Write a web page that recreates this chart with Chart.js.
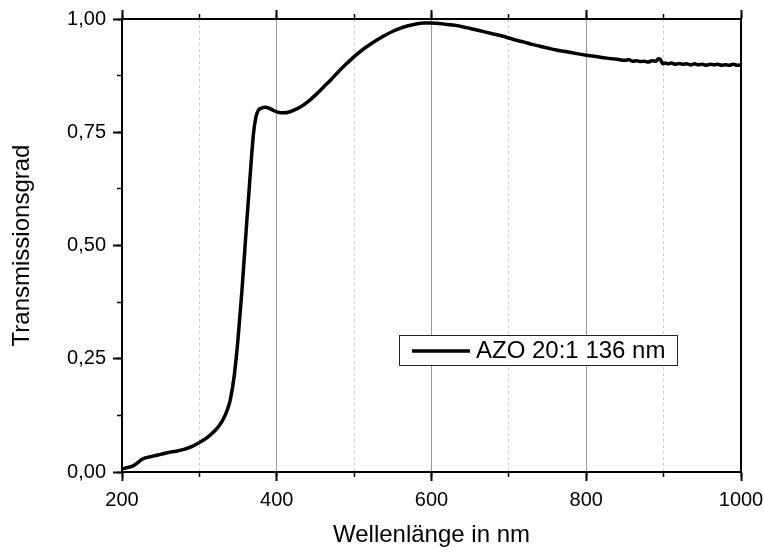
<!DOCTYPE html>
<html lang="de">
<head>
<meta charset="utf-8">
<title>Transmission AZO 20:1</title>
<script src="https://cdn.jsdelivr.net/npm/chart.js@4.4.0/dist/chart.umd.min.js"></script>
<style>
  html, body { margin: 0; padding: 0; background: #fff; }
</style>
</head>
<body>
<canvas id="grafik" width="764" height="552"></canvas>
<script>
// Transmissionsspektrum der AZO-Schicht (20:1, 136 nm)
const probe = 'AZO 20:1 136 nm';

const wellenlaenge = [
  200, 205, 210, 215, 220, 225, 230, 240, 250, 260, 270, 280, 290,
  300, 310, 320, 325, 330, 335, 340, 345, 350, 355, 360, 365, 370,
  373, 376, 380, 385, 390, 395, 400, 405, 410, 415, 420, 430, 440,
  450, 460, 470, 480, 490, 500, 510, 520, 530, 540, 550, 560, 570,
  580, 590, 600, 610, 620, 630, 640, 650, 660, 670, 680, 690, 700,
  710, 720, 730, 740, 750, 760, 770, 780, 790, 800, 810, 820, 830,
  840, 850, 855, 860, 865, 870, 875, 880, 885, 890, 893, 896, 899,
  902, 906, 910, 915, 920, 925, 930, 935, 940, 945, 950, 955, 960,
  965, 970, 975, 980, 985, 990, 995, 1000
];

const transmission = [
  0.007, 0.009, 0.011, 0.014, 0.020, 0.027, 0.031, 0.035, 0.039, 0.043, 0.046, 0.050, 0.056,
  0.065, 0.076, 0.091, 0.101, 0.114, 0.132, 0.160, 0.212, 0.295, 0.400, 0.522, 0.640, 0.748,
  0.783, 0.798, 0.803, 0.805, 0.803, 0.799, 0.795, 0.793, 0.793, 0.794, 0.797, 0.805, 0.817,
  0.832, 0.849, 0.866, 0.884, 0.901, 0.917, 0.931, 0.943, 0.954, 0.964, 0.973, 0.980, 0.985,
  0.989, 0.991, 0.991, 0.990, 0.988, 0.986, 0.983, 0.979, 0.975, 0.971, 0.967, 0.963, 0.958,
  0.953, 0.949, 0.944, 0.940, 0.936, 0.932, 0.929, 0.926, 0.923, 0.920, 0.918, 0.915, 0.913,
  0.911, 0.909, 0.910, 0.907, 0.908, 0.906, 0.907, 0.905, 0.908, 0.907, 0.912, 0.910, 0.901,
  0.903, 0.901, 0.903, 0.900, 0.902, 0.900, 0.901, 0.899, 0.901, 0.899, 0.900, 0.898, 0.900,
  0.899, 0.900, 0.898, 0.899, 0.898, 0.900, 0.898, 0.899
];

// Achsenteilung
const xTicks = [200, 400, 600, 800, 1000];
const xNebenTicks = [200, 300, 400, 500, 600, 700, 800, 900, 1000];
const yTicks = [0, 0.25, 0.5, 0.75, 1];
const yNebenTicks = [0, 0.125, 0.25, 0.375, 0.5, 0.625, 0.75, 0.875, 1];

const schrift = '"Liberation Sans", Arial, sans-serif';
const leer = 'rgba(0,0,0,0)';

function setzeTicks(werte) {
  return scale => { scale.ticks = werte.map(v => ({ value: v })); };
}

// Legende mit Rahmen innerhalb des Diagramms
const legendeImDiagramm = {
  id: 'legendeImDiagramm',
  afterDatasetsDraw(chart) {
    const { ctx, chartArea: a } = chart;
    const ds = chart.data.datasets[0];
    const x = Math.round(a.left + a.width * 0.4475);
    const y = Math.round(a.top + a.height * 0.698);
    const w = 278, h = 30;
    ctx.save();
    ctx.fillStyle = '#fff';
    ctx.fillRect(x, y, w, h);
    ctx.strokeStyle = '#222';
    ctx.lineWidth = 1;
    ctx.strokeRect(x + 0.5, y + 0.5, w, h);
    ctx.strokeStyle = ds.borderColor;
    ctx.lineWidth = ds.borderWidth;
    ctx.beginPath();
    ctx.moveTo(x + 13, y + h / 2 + 1);
    ctx.lineTo(x + 71, y + h / 2 + 1);
    ctx.stroke();
    ctx.fillStyle = '#000';
    ctx.font = '24px ' + schrift;
    ctx.textBaseline = 'middle';
    ctx.fillText(ds.label, x + 77, y + h / 2 + 1);
    ctx.restore();
  }
};

new Chart(document.getElementById('grafik'), {
  type: 'line',
  data: {
    datasets: [{
      label: probe,
      data: wellenlaenge.map((w, i) => ({ x: w, y: transmission[i] })),
      borderColor: '#000',
      borderWidth: 3.5,
      pointRadius: 0,
      cubicInterpolationMode: 'monotone',
      fill: false
    }]
  },
  options: {
    responsive: false,
    animation: false,
    events: [],
    layout: { padding: 0 },
    plugins: { legend: { display: false }, tooltip: { enabled: false } },
    scales: {
      x: {
        type: 'linear', position: 'bottom', weight: 1, min: 200, max: 1000,
        afterBuildTicks: setzeTicks(xTicks),
        afterFit: s => { s.height = 80; s.paddingLeft = 0; s.paddingRight = 0; },
        grid: {
          color: c => (c.tick && c.tick.value > 200 && c.tick.value < 1000) ? '#9a9a9a' : leer,
          lineWidth: 1, tickColor: '#000', tickLength: 9, tickWidth: 2
        },
        border: { display: true, color: '#000', width: 2 },
        ticks: { color: '#000', font: { family: schrift, size: 20 }, padding: 7, maxRotation: 0, autoSkip: false,
          callback: v => String(v) },
        title: { display: true, text: 'Wellenlänge in nm', color: '#000',
          font: { family: schrift, size: 24 }, padding: { top: 0, bottom: 2 } }
      },
      xNeben: {
        type: 'linear', position: 'bottom', weight: 0, min: 200, max: 1000,
        afterBuildTicks: setzeTicks(xNebenTicks),
        afterFit: s => { s.height = 0; s.paddingLeft = 0; s.paddingRight = 0; },
        grid: {
          color: c => (c.tick && c.tick.value % 200 === 100) ? '#cfcfcf' : leer,
          lineWidth: 1, tickColor: '#000', tickLength: 5, tickWidth: 1.5, tickBorderDash: []
        },
        border: { display: false, dash: [3, 3] },
        ticks: { display: false }
      },
      xOben: {
        type: 'linear', position: 'top', weight: 1, min: 200, max: 1000,
        afterBuildTicks: setzeTicks(xTicks),
        afterFit: s => { s.height = 18; s.paddingLeft = 0; s.paddingRight = 0; },
        grid: { drawOnChartArea: false, tickColor: '#000', tickLength: 9, tickWidth: 2 },
        border: { display: true, color: '#000', width: 2 },
        ticks: { display: false }
      },
      xObenNeben: {
        type: 'linear', position: 'top', weight: 0, min: 200, max: 1000,
        afterBuildTicks: setzeTicks(xNebenTicks),
        afterFit: s => { s.height = 0; s.paddingLeft = 0; s.paddingRight = 0; },
        grid: { drawOnChartArea: false, tickColor: '#000', tickLength: 5, tickWidth: 1.5 },
        border: { display: false },
        ticks: { display: false }
      },
      y: {
        type: 'linear', position: 'left', weight: 1, min: 0, max: 1,
        afterBuildTicks: setzeTicks(yTicks),
        afterFit: s => { s.width = 122; },
        grid: { drawOnChartArea: false, tickColor: '#000', tickLength: 9, tickWidth: 2 },
        border: { display: true, color: '#000', width: 2 },
        ticks: { color: '#000', font: { family: schrift, size: 20 }, padding: 7,
          callback: v => v.toFixed(2).replace('.', ',') },
        title: { display: true, text: 'Transmissionsgrad', color: '#000',
          font: { family: schrift, size: 24 }, padding: { top: 8, bottom: 0 } }
      },
      yNeben: {
        type: 'linear', position: 'left', weight: 0, min: 0, max: 1,
        afterBuildTicks: setzeTicks(yNebenTicks),
        afterFit: s => { s.width = 0; },
        grid: { drawOnChartArea: false, tickColor: '#000', tickLength: 5, tickWidth: 1.5 },
        border: { display: false },
        ticks: { display: false }
      },
      yRechts: {
        type: 'linear', position: 'right', weight: 0, min: 0, max: 1,
        afterFit: s => { s.width = 23; },
        grid: { drawOnChartArea: false, drawTicks: false },
        border: { display: true, color: '#000', width: 2 },
        ticks: { display: false }
      }
    }
  },
  plugins: [legendeImDiagramm]
});
</script>
</body>
</html>
